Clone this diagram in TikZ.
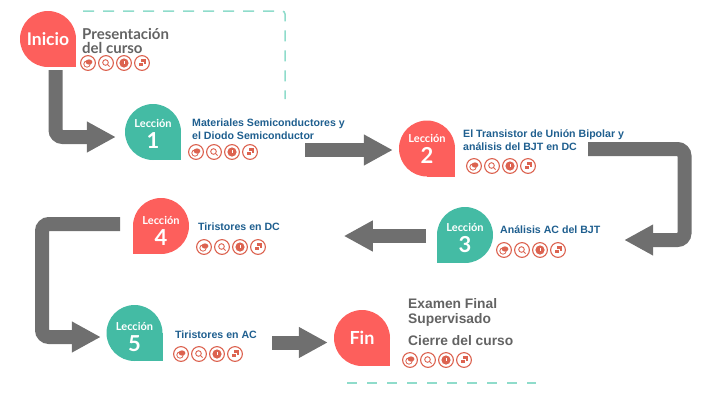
\documentclass[tikz,border=0pt]{standalone}
\usepackage{fontspec}
\usetikzlibrary{arrows.meta}
\setmainfont{Liberation Sans}
\newfontfamily\roundfont{Lato}
\definecolor{dropred}{HTML}{FD5F5C}
\definecolor{dropteal}{HTML}{44BBA4}
\definecolor{flowgray}{HTML}{6F6F6F}
\definecolor{dashteal}{HTML}{8FDCCB}
\definecolor{titleblue}{HTML}{1F5F8F}
\definecolor{titlegray}{HTML}{636363}
\definecolor{iconred}{HTML}{DC6350}
\tikzset{
  drop/.style={circle,minimum size=56pt,inner sep=0pt},
  droptext/.style={text=white,align=center,inner sep=0pt,font=\roundfont\bfseries\fontsize{11}{21}\selectfont},
  flow/.style={draw=flowgray,line width=14pt,-{Triangle[length=29pt,width=29pt]}},
  lessontitle/.style={anchor=west,align=left,inner sep=0pt,text=titleblue,font=\bfseries\fontsize{10.6}{13}\selectfont},
  graytitle/.style={anchor=west,align=left,inner sep=0pt,text=titlegray,font=\bfseries\fontsize{13.8}{15}\selectfont},
  guide/.style={dashteal,line width=1.5pt,dash pattern=on 11pt off 9pt},
  iconrow/.pic={
    \foreach \i in {0,18,36,54}
      \draw[iconred,line width=1.1pt,fill=white] (\i,0) circle (7.4);
    % first icon
    \draw[iconred,line width=.8pt] (-1,1) circle (3.2);
    \fill[iconred] (1,-1) ellipse (3.4 and 2.6);
    % second icon
    \draw[iconred,line width=.9pt] (17.5,-.5) circle (2.8);
    \draw[iconred,line width=1pt] (19.5,1.5) -- (21.5,3.5);
    % third icon
    \fill[iconred] (36,0) circle (4.6);
    \fill[white] (35.5,-2.5) rectangle (36.5,.8);
    % fourth icon
    \fill[iconred] (53,-4) rectangle (57.5,.5);
    \draw[white,fill=iconred,line width=.6pt] (50,-1.2) rectangle (54.8,3.6);
  }
}
\begin{document}
\begin{tikzpicture}[x=1pt,y=-1pt]
  \useasboundingbox (0,0) rectangle (720,408);

  % Guide lines
  \draw[guide,rounded corners=3pt] (83,11) -- (285,11) -- (285,99);
  \draw[guide,dash pattern=on 10pt off 10pt] (347,383) -- (536,383);

  % Drops
  \node[drop,fill=dropred] (inicio) at (48,39) {};
  \fill[dropred] (inicio.center) rectangle (inicio.east |- inicio.south);
  \node[drop,fill=dropteal] (lec1) at (153,132) {};
  \fill[dropteal] (lec1.center) rectangle (lec1.east |- lec1.south);
  \node[drop,fill=dropred] (lec2) at (427,148.5) {};
  \fill[dropred] (lec2.center) rectangle (lec2.east |- lec2.south);
  \node[drop,fill=dropteal] (lec3) at (465,235) {};
  \fill[dropteal] (lec3.center) rectangle (lec3.west |- lec3.south);
  \node[drop,fill=dropred] (lec4) at (161,226) {};
  \fill[dropred] (lec4.center) rectangle (lec4.west |- lec4.south);
  \node[drop,fill=dropteal] (lec5) at (134.5,333) {};
  \fill[dropteal] (lec5.center) rectangle (lec5.east |- lec5.south);
  \node[drop,fill=dropred] (fin) at (362,338) {};
  \fill[dropred] (fin.center) rectangle (fin.east |- fin.south);

  % Drop labels
  \node[droptext,font=\roundfont\bfseries\fontsize{17.5}{19}\selectfont] (iniciotxt) at (inicio) {Inicio};
  \node[droptext,yshift=-1.5pt] (lec1txt) at (lec1) {Lección\\{\fontsize{22}{21}\selectfont 1}};
  \node[droptext] (lec2txt) at (lec2) {Lección\\{\fontsize{22}{21}\selectfont 2}};
  \node[droptext,yshift=-3pt] (lec3txt) at (lec3) {Lección\\{\fontsize{22}{21}\selectfont 3}};
  \node[droptext,yshift=-5pt] (lec4txt) at (lec4) {Lección\\{\fontsize{22}{21}\selectfont 4}};
  \node[droptext,yshift=-4pt] (lec5txt) at (lec5) {Lección\\{\fontsize{22}{21}\selectfont 5}};
  \node[droptext,font=\roundfont\bfseries\fontsize{18}{19}\selectfont] (fintxt) at (fin) {Fin};

  % Titles
  \node[graytitle,font=\roundfont\bfseries\fontsize{15}{14}\selectfont] (t0) at (82,41) {Presentación\\del curso};
  \node[lessontitle] (t1) at (192,129.5) {Materiales Semiconductores y\\el Diodo Semiconductor};
  \node[lessontitle] (t2) at (463,140.5) {El Transistor de Unión Bipolar y\\análisis del BJT en DC};
  \node[lessontitle] (t3) at (500,230) {Análisis AC del BJT};
  \node[lessontitle] (t4) at (198,227) {Tiristores en DC};
  \node[lessontitle] (t5) at (175,335) {Tiristores en AC};
  \node[graytitle] (t6) at (408,312) {Examen Final\\Supervisado};
  \node[graytitle] (t7) at (408,341) {Cierre del curso};

  % Icons
  \pic at (88,63) {iconrow};
  \pic at (196,152) {iconrow};
  \pic at (474,166) {iconrow};
  \pic at (504,250) {iconrow};
  \pic at (204,247) {iconrow};
  \pic at (181,354) {iconrow};
  \pic at (410,360) {iconrow};

  % Arrows
  \coordinate (s0) at (55.5,70);
  \coordinate (s1) at (305,150);
  \coordinate (s2) at (588,149);
  \coordinate (s3) at (426,236);
  \coordinate (s4) at (120,224);
  \coordinate (s5) at (272,342.5);
  \draw[flow] (s0) [rounded corners=7pt] -- (55.5,137) [sharp corners] -- ([shift={(-9,5)}]lec1.west);
  \draw[flow] (s1) -- ([shift={(-6,1.5)}]lec2.west);
  \draw[flow] (s2) [rounded corners=7pt] -- (684.5,149) -- (684.5,240) [sharp corners] -- ([shift={(131,5)}]lec3.east);
  \draw[flow] (s3) -- ([shift={(-93,1)}]lec3.west);
  \draw[flow] (s4) [rounded corners=7pt] -- (42,224) -- (42,337) [sharp corners] -- ([shift={(-5.5,4)}]lec5.west);
  \draw[flow] (s5) -- ([shift={(-6,4.5)}]fin.west);
\end{tikzpicture}
\end{document}
